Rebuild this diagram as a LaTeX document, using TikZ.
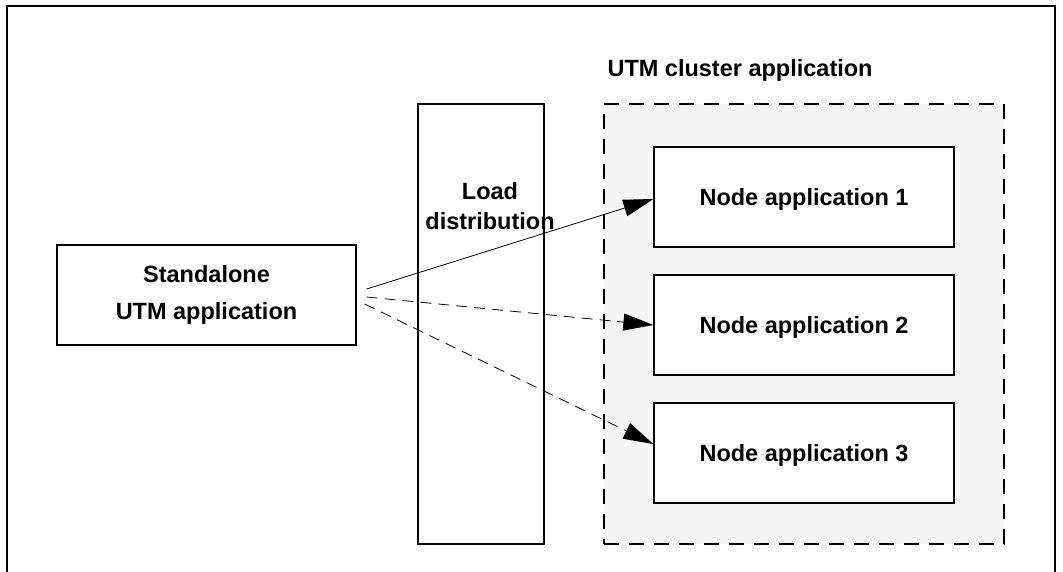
\documentclass[tikz,border=0pt]{standalone}
\usepackage{fontspec}
\setmainfont{Liberation Sans}
\usetikzlibrary{positioning,arrows.meta}
\definecolor{clustergray}{RGB}{245,245,245}

\begin{document}
\begin{tikzpicture}[x=1pt,y=-1pt,font=\bfseries\fontsize{23.5}{30}\selectfont,
  box/.style={draw,line width=1.3pt,fill=white,inner sep=0pt,align=center},
  flow/.style={-{Triangle[length=30pt,width=17pt]},line width=0.8pt},
  dflow/.style={flow,dash pattern=on 11pt off 7pt}]
\useasboundingbox (0,0) rectangle (1063,571);
\clip (0,0) rectangle (1063,571);
\draw[line width=2pt] (7,6) rectangle (1055,620);
\node[box,fill=clustergray,dash pattern=on 15pt off 10pt,minimum width=400pt,minimum height=440pt] (cl) at (804,324) {};
\node[anchor=base west] (cltitle) at (604,76) {UTM cluster application};
\node[box,minimum width=126pt,minimum height=440pt] (ld) at (481,324) {};
\node[align=center] (ldtext) at (490,206) {Load\\distribution};
\node[box,minimum width=299pt,minimum height=100pt] (sa) at (206.5,295) {Standalone\\[7pt]UTM application};
\foreach \i/\y in {1/197,2/325,3/453}
  \node[box,text depth=0pt,minimum width=300pt,minimum height=100pt] (na\i) at (804,\y) {Node application \i};
\coordinate (s1) at ([xshift=10pt,yshift=6pt]sa.east);
\coordinate (s2) at ([xshift=10pt,yshift=-2pt]sa.east);
\coordinate (s3) at ([xshift=8pt,yshift=-9pt]sa.east);
\draw[flow] (s1) -- ([yshift=-2pt]na1.west);
\draw[dflow] (s2) -- (na2.west);
\draw[dflow] (s3) -- ([yshift=9pt]na3.west);
\end{tikzpicture}
\end{document}
